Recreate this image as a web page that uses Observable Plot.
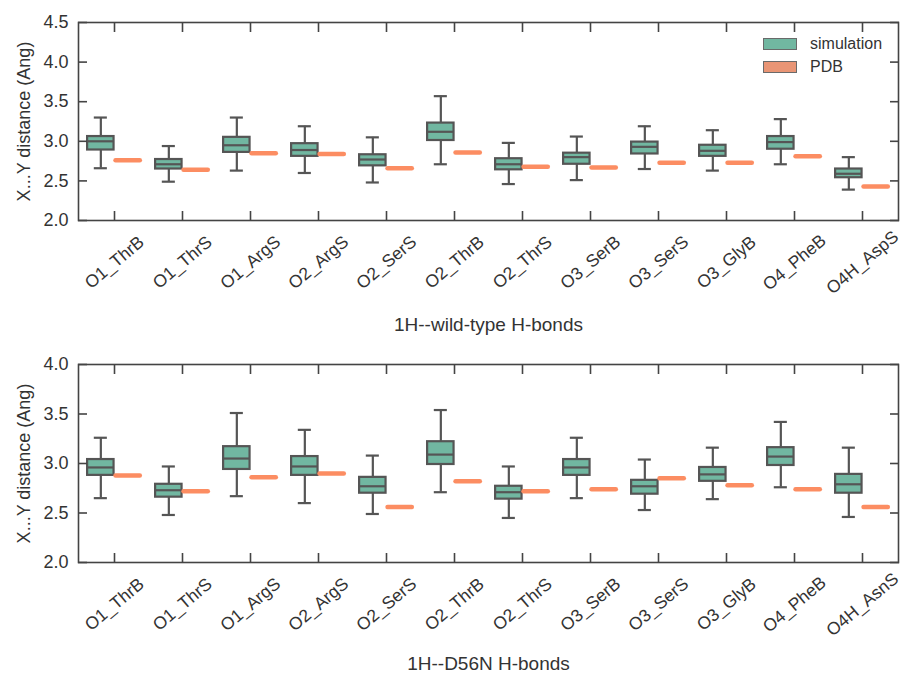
<!DOCTYPE html>
<html><head><meta charset="utf-8">
<script src="https://cdn.jsdelivr.net/npm/d3@7"></script>
<script src="https://cdn.jsdelivr.net/npm/@observablehq/plot@0.6"></script>
<style>
body{margin:0;background:#fff;font-family:"Liberation Sans",Arial,sans-serif;}
#wrap{position:relative;width:906px;height:680px;background:#fff;}
#wrap svg{display:block;}
.legend{position:absolute;left:763px;top:32px;font-size:16px;color:#333;font-family:"Liberation Sans",Arial,sans-serif;}
.legend .row{display:flex;align-items:center;height:23px;}
.legend .sw{box-sizing:border-box;width:34px;height:12px;border:1.5px solid #6a6a6a;margin-right:13px;}
</style></head><body><div id="wrap"></div>
<script>
const categoriesWT = ["O1_ThrB","O1_ThrS","O1_ArgS","O2_ArgS","O2_SerS","O2_ThrB","O2_ThrS","O3_SerB","O3_SerS","O3_GlyB","O4_PheB","O4H_AspS"];
const categoriesD56N = ["O1_ThrB","O1_ThrS","O1_ArgS","O2_ArgS","O2_SerS","O2_ThrB","O2_ThrS","O3_SerB","O3_SerS","O3_GlyB","O4_PheB","O4H_AsnS"];
const yTicksWT = [2.0, 2.5, 3.0, 3.5, 4.0, 4.5];
const yTicksD56N = [2.0, 2.5, 3.0, 3.5, 4.0];
const seriesNames = ["simulation", "PDB"];

const wtWhiskerLow  = [2.66,2.49,2.63,2.60,2.48,2.71,2.46,2.51,2.65,2.63,2.71,2.39];
const wtQ1          = [2.89,2.65,2.86,2.81,2.69,3.01,2.64,2.71,2.84,2.81,2.90,2.54];
const wtMedian      = [3.00,2.71,2.95,2.89,2.77,3.12,2.71,2.80,2.93,2.88,2.99,2.59];
const wtQ3          = [3.06,2.77,3.05,2.97,2.83,3.23,2.78,2.85,2.99,2.95,3.06,2.65];
const wtWhiskerHigh = [3.30,2.94,3.30,3.19,3.05,3.57,2.98,3.06,3.19,3.14,3.28,2.80];
const wtPDB         = [2.76,2.64,2.85,2.84,2.66,2.86,2.68,2.67,2.73,2.73,2.81,2.43];

const d56nWhiskerLow  = [2.65,2.48,2.67,2.60,2.49,2.71,2.45,2.65,2.53,2.64,2.76,2.46];
const d56nQ1          = [2.88,2.66,2.94,2.88,2.70,2.99,2.64,2.88,2.69,2.82,2.98,2.70];
const d56nMedian      = [2.96,2.73,3.05,2.97,2.77,3.09,2.71,2.96,2.77,2.89,3.07,2.79];
const d56nQ3          = [3.04,2.79,3.17,3.07,2.86,3.22,2.77,3.04,2.83,2.96,3.16,2.89];
const d56nWhiskerHigh = [3.26,2.97,3.51,3.34,3.08,3.54,2.97,3.26,3.04,3.16,3.42,3.16];
const d56nPDB         = [2.88,2.72,2.86,2.90,2.56,2.82,2.72,2.74,2.85,2.78,2.74,2.56];

const simFill = "#71b7a1";
const pdbColor = "#fc8d62";
const pdbLegend = "#e99575";
const boxStroke = "#555555";
const frameColor = "#444444";
const textColor = "#333333";
const W = 906, ML = 78, MR = 8;

function panel({cats, lo, q1, med, q3, hi, pdb, yDomain, yTicks, title, marginTop, marginBottom, titleDy}) {
  const rows = cats.map((c, i) => ({c, lo: lo[i], q1: q1[i], med: med[i], q3: q3[i], hi: hi[i], pdb: pdb[i]}));
  const bw = (W - ML - MR) / cats.length;
  const boxIn = {insetLeft: bw * 0.104, insetRight: bw * 0.504};
  const capIn = {insetLeft: bw * 0.202, insetRight: bw * 0.602};
  const pdbIn = {insetLeft: bw * 0.52, insetRight: bw * 0.12};
  const line = {stroke: boxStroke, strokeWidth: 2.2};
  return Plot.plot({
    width: W, height: 340, marginTop, marginBottom, marginLeft: ML, marginRight: MR,
    x: {type: "band", domain: cats, padding: 0},
    y: {domain: yDomain},
    style: {fontFamily: '"Liberation Sans", Arial, sans-serif', color: textColor, background: "#fff", overflow: "visible"},
    marks: [
      Plot.ruleX(rows, {x: "c", y1: "q3", y2: "hi", dx: -0.2 * bw, ...line}),
      Plot.ruleX(rows, {x: "c", y1: "lo", y2: "q1", dx: -0.2 * bw, ...line}),
      Plot.tickY(rows, {x: "c", y: "hi", ...capIn, ...line}),
      Plot.tickY(rows, {x: "c", y: "lo", ...capIn, ...line}),
      Plot.barY(rows, {x: "c", y1: "q1", y2: "q3", ...boxIn, fill: simFill, ...line}),
      Plot.tickY(rows, {x: "c", y: "med", ...boxIn, ...line}),
      Plot.tickY(rows, {x: "c", y: "pdb", ...pdbIn, stroke: pdbColor, strokeWidth: 4.5, strokeLinecap: "round"}),
      Plot.frame({stroke: frameColor, strokeWidth: 1.6}),
      Plot.axisX({anchor: "bottom", tickSize: 9, dy: -9, tickFormat: () => "", label: null, stroke: frameColor, strokeWidth: 1.6}),
      Plot.axisX({anchor: "top", tickSize: 9, dy: 9, tickFormat: () => "", label: null, stroke: frameColor, strokeWidth: 1.6}),
      Plot.axisY({anchor: "left", ticks: yTicks, tickSize: 9, dx: 9, tickFormat: () => "", label: null, stroke: frameColor, strokeWidth: 1.6}),
      Plot.axisY({anchor: "right", ticks: yTicks, tickSize: 9, dx: -9, tickFormat: () => "", label: null, stroke: frameColor, strokeWidth: 1.6}),
      Plot.axisY({anchor: "left", ticks: yTicks, tickSize: 0, tickPadding: 10, tickFormat: d3.format(".1f"), label: null, fontSize: 18, fill: textColor}),
      Plot.text(cats, {x: d => d, text: d => d, frameAnchor: "bottom", dy: 42, rotate: -40, textAnchor: "middle", lineAnchor: "middle", fontSize: 17.5, fill: textColor}),
      Plot.text([title], {text: d => d, frameAnchor: "bottom", dy: titleDy, textAnchor: "middle", lineAnchor: "middle", fontSize: 19, fill: textColor}),
      Plot.text(["X...Y distance (Ang)"], {text: d => d, frameAnchor: "left", dx: -54, rotate: -90, textAnchor: "middle", lineAnchor: "middle", fontSize: 18, fill: textColor})
    ]
  });
}

const wrap = document.getElementById("wrap");
wrap.appendChild(panel({cats: categoriesWT, lo: wtWhiskerLow, q1: wtQ1, med: wtMedian, q3: wtQ3, hi: wtWhiskerHigh, pdb: wtPDB,
  yDomain: [2.0, 4.5], yTicks: yTicksWT, title: "1H--wild-type H-bonds", marginTop: 22, marginBottom: 120, titleDy: 104}));
wrap.appendChild(panel({cats: categoriesD56N, lo: d56nWhiskerLow, q1: d56nQ1, med: d56nMedian, q3: d56nQ3, hi: d56nWhiskerHigh, pdb: d56nPDB,
  yDomain: [2.0, 4.0], yTicks: yTicksD56N, title: "1H--D56N H-bonds", marginTop: 24, marginBottom: 118, titleDy: 101}));

const legend = document.createElement("div");
legend.className = "legend";
const legendColors = [simFill, pdbLegend];
seriesNames.forEach((name, i) => {
  const row = document.createElement("div");
  row.className = "row";
  const sw = document.createElement("div");
  sw.className = "sw";
  sw.style.background = legendColors[i];
  const label = document.createElement("span");
  label.textContent = name;
  row.appendChild(sw); row.appendChild(label);
  legend.appendChild(row);
});
wrap.appendChild(legend);
</script>
</body></html>
